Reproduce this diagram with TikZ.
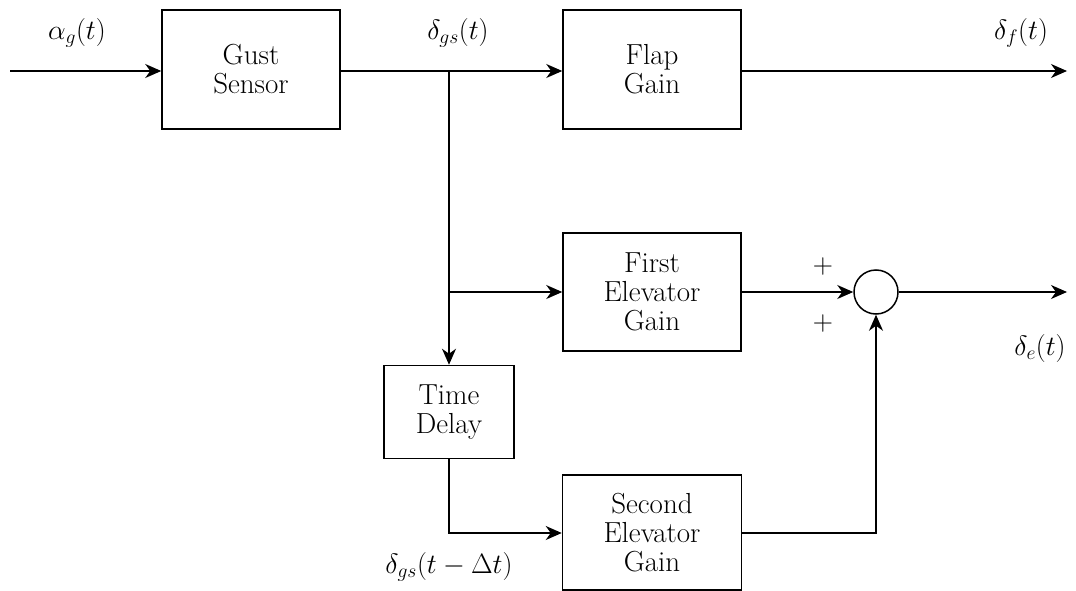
\documentclass[tikz,border=0pt]{standalone}
\usepackage{fix-cm}
\usetikzlibrary{arrows.meta}
\begin{document}
\begin{tikzpicture}[x=1pt,y=-1pt,
  blk/.style={draw,line width=1.5pt,align=center,font=\fontsize{29}{29}\selectfont,inner sep=0pt},
  conn/.style={line width=1.5pt,-{Stealth[length=16pt,width=14pt,inset=5pt]}},
  wire/.style={line width=1.5pt},
  lbl/.style={font=\fontsize{28}{30}\selectfont,inner sep=0pt}]
\useasboundingbox (0,0) rectangle (1076,591);
\node[blk,minimum width=178pt,minimum height=119pt] (gs) at (251,69.5) {Gust\\Sensor};
\node[blk,minimum width=178pt,minimum height=119pt] (fg) at (652,69.5) {Flap\\Gain};
\node[blk,minimum width=178pt,minimum height=118pt] (feg) at (652,292) {First\\Elevator\\Gain};
\node[blk,minimum width=130pt,minimum height=93pt] (td) at (449,412) {Time\\Delay};
\node[blk,minimum width=179pt,minimum height=115pt] (seg) at (652,532.5) {Second\\Elevator\\Gain};
\node[draw,circle,line width=1.5pt,minimum size=44pt,inner sep=0pt] (sum) at (876,292) {};
\coordinate (in) at (10,71);
\coordinate (outf) at (1067,71);
\coordinate (oute) at (1067,292);
\coordinate (br1) at (449,71);
\coordinate (br2) at (449,292);
\coordinate (c1) at (449,533);
\coordinate (c2) at (876,533);
\draw[conn] (in) -- (gs.west |- in);
\draw[conn] (gs.east |- in) -- (fg.west |- in);
\draw[conn] (fg.east |- outf) -- (outf);
\draw[conn] (br1) -- (td.north);
\draw[conn] (br2) -- (feg.west);
\draw[conn] (feg.east) -- (sum.west);
\draw[conn] (sum.east) -- (oute);
\draw[conn] (td.south) -- (c1) -- (seg.west |- c1);
\draw[conn] (seg.east |- c2) -- (c2) -- (sum.south);
\node[lbl] (la) at (77,33) {$\alpha_g(t)$};
\node[lbl] (lgs) at (458,33) {$\delta_{gs}(t)$};
\node[lbl] (lf) at (1021,33) {$\delta_f(t)$};
\node[lbl] (le) at (1040,348) {$\delta_e(t)$};
\node[lbl] (ld) at (449,567) {$\delta_{gs}(t-\Delta t)$};
\node[lbl] (p1) at (823,266) {$+$};
\node[lbl] (p2) at (823,323) {$+$};
\end{tikzpicture}
\end{document}
